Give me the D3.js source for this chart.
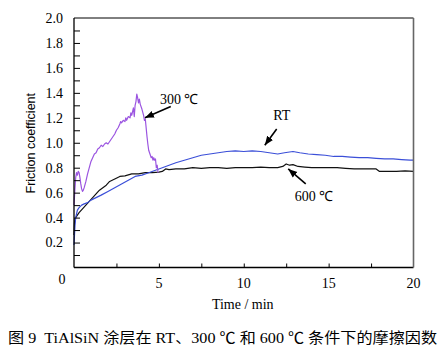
<!DOCTYPE html>
<html>
<head>
<meta charset="utf-8">
<script src="https://cdn.jsdelivr.net/npm/d3@7"></script>
<style>
  body { margin: 0; background: #fff; }
  svg { display: block; }
</style>
</head>
<body>
<script>
// friction coefficient vs time
var timeRT = [0, 0.03, 0.06, 0.1, 0.15, 0.2, 0.3, 0.45, 0.6, 0.8, 1.0, 1.3, 1.6, 2.0, 2.4, 2.8, 3.2, 3.6, 4.0, 4.4, 4.8, 5.2, 5.6, 6.0, 6.5, 7.0, 7.5, 8.0, 8.5, 9.0, 9.5, 10.0, 10.5, 11.0, 11.5, 12.0, 12.4, 12.9, 13.3, 13.8, 14.3, 14.8, 15.3, 15.8, 16.3, 16.8, 17.3, 17.8, 18.3, 18.8, 19.3, 19.8, 20]
var muRT = [0.18, 0.26, 0.34, 0.40, 0.43, 0.46, 0.48, 0.50, 0.51, 0.52, 0.54, 0.56, 0.58, 0.61, 0.64, 0.67, 0.70, 0.73, 0.74, 0.76, 0.78, 0.80, 0.82, 0.84, 0.86, 0.88, 0.90, 0.91, 0.92, 0.93, 0.935, 0.93, 0.935, 0.93, 0.92, 0.91, 0.92, 0.93, 0.92, 0.91, 0.905, 0.90, 0.89, 0.89, 0.885, 0.88, 0.88, 0.875, 0.87, 0.87, 0.865, 0.86, 0.86]

var time300 = [0, 0.05, 0.1, 0.15, 0.2, 0.25, 0.3, 0.35, 0.4, 0.45, 0.5, 0.55, 0.6, 0.7, 0.8, 0.9, 1.0, 1.1, 1.2, 1.3, 1.4, 1.5, 1.6, 1.7, 1.8, 1.9, 2.0, 2.1, 2.2, 2.3, 2.4, 2.5, 2.6, 2.7, 2.75, 2.8, 2.9, 3.0, 3.05, 3.1, 3.2, 3.3, 3.35, 3.4, 3.5, 3.55, 3.6, 3.65, 3.7, 3.75, 3.8, 3.85, 3.9, 4.0, 4.1, 4.15, 4.2, 4.25, 4.3, 4.35, 4.4, 4.45, 4.5, 4.55, 4.6, 4.65, 4.7, 4.75, 4.8, 4.85, 4.9, 4.95]
var mu300 = [0.50, 0.62, 0.72, 0.76, 0.74, 0.77, 0.76, 0.72, 0.67, 0.63, 0.61, 0.62, 0.64, 0.69, 0.75, 0.80, 0.85, 0.88, 0.91, 0.92, 0.95, 0.96, 0.98, 0.97, 0.99, 1.00, 0.99, 1.01, 1.03, 1.05, 1.07, 1.10, 1.12, 1.15, 1.17, 1.16, 1.18, 1.17, 1.20, 1.18, 1.21, 1.20, 1.24, 1.22, 1.28, 1.21, 1.30, 1.33, 1.39, 1.36, 1.32, 1.35, 1.31, 1.27, 1.22, 1.18, 1.19, 1.12, 1.05, 0.99, 0.94, 0.92, 0.90, 0.88, 0.89, 0.86, 0.88, 0.86, 0.87, 0.80, 0.82, 0.76]

var time600 = [0, 0.03, 0.06, 0.1, 0.2, 0.3, 0.5, 0.7, 0.9, 1.1, 1.3, 1.5, 1.7, 1.9, 2.1, 2.4, 2.7, 3.0, 3.4, 3.8, 4.2, 4.6, 5.0, 5.2, 5.4, 5.6, 6.0, 6.5, 7.0, 7.5, 8.0, 8.5, 9.0, 9.5, 10.0, 10.5, 11.0, 11.5, 12.0, 12.3, 12.5, 12.7, 12.9, 13.2, 13.6, 14.0, 14.5, 15.0, 15.5, 16.0, 16.5, 17.0, 17.5, 17.8, 18.0, 18.5, 19.0, 19.5, 20]
var mu600 = [0.26, 0.36, 0.39, 0.40, 0.42, 0.44, 0.47, 0.50, 0.53, 0.56, 0.59, 0.62, 0.64, 0.66, 0.69, 0.71, 0.73, 0.735, 0.75, 0.75, 0.76, 0.76, 0.765, 0.77, 0.79, 0.785, 0.79, 0.79, 0.80, 0.795, 0.80, 0.80, 0.795, 0.80, 0.80, 0.80, 0.805, 0.80, 0.80, 0.81, 0.83, 0.82, 0.825, 0.81, 0.805, 0.80, 0.80, 0.80, 0.80, 0.795, 0.79, 0.79, 0.79, 0.79, 0.77, 0.77, 0.77, 0.775, 0.77]

var yTickLabels = ["0.2", "0.4", "0.6", "0.8", "1.0", "1.2", "1.4", "1.6", "1.8", "2.0"]
var xTickLabels = ["5", "10", "15", "20"]

// callouts: label anchor and arrow, in data units
var callouts = [
  { text: "300 \u2103", x: 5.06, y: 1.35, anchor: "start", from: [5.7, 1.29], to: [4.18, 1.20] },
  { text: "RT", x: 12.24, y: 1.22, anchor: "middle", from: [11.94, 1.11], to: [11.24, 0.98] },
  { text: "600 \u2103", x: 13.0, y: 0.57, anchor: "start", from: [13.65, 0.67], to: [12.62, 0.79] }
]

var caption = "图 9\u00a0\u00a0TiAlSiN 涂层在 RT、300 \u2103 和 600 \u2103 条件下的摩擦因数"

var W = 443, H = 354
var margin = { top: 18, right: 29.5, bottom: 86.5, left: 74 }
var width = W - margin.left - margin.right
var height = H - margin.top - margin.bottom

var svg = d3.select("body").append("svg")
    .attr("width", W)
    .attr("height", H)

var g = svg.append("g")
    .attr("transform", "translate(" + margin.left + "," + margin.top + ")")

var x = d3.scaleLinear().domain([0, 20]).range([0, width])
var y = d3.scaleLinear().domain([0, 2]).range([height, 0])

var serif = "'Liberation Serif', 'Times New Roman', serif"

var line = d3.line()
    .x(function(d) { return x(d[0]) })
    .y(function(d) { return y(d[1]) })

var series = [
  { t: time600, v: mu600, color: "#111" },
  { t: timeRT, v: muRT, color: "#3b4fd8" },
  { t: time300, v: mu300, color: "#9b55e0" }
]

series.forEach(function(s) {
  g.append("path")
      .datum(s.t.map(function(t, i) { return [t, s.v[i]] }))
      .attr("fill", "none")
      .attr("stroke", s.color)
      .attr("stroke-width", 1.2)
      .attr("stroke-linejoin", "round")
      .attr("d", line)
})

// inner ticks on left axis every 0.1
var yAxis = d3.axisLeft(y)
    .tickValues(d3.range(1, 20).map(function(i) { return i / 10 }))
    .tickSize(-6)
    .tickFormat("")
g.append("g").call(yAxis)
    .call(function(a) { a.select(".domain").remove() })
    .selectAll("line").attr("stroke", "#000")

g.selectAll(".ylab")
    .data(yTickLabels)
  .enter().append("text")
    .attr("x", -11)
    .attr("y", function(d) { return y(+d) })
    .attr("dy", "0.35em")
    .attr("text-anchor", "end")
    .attr("font-family", serif)
    .attr("font-size", 14)
    .text(function(d) { return d })

// bottom ticks every 2.5, pointing up
var xAxis = d3.axisBottom(x)
    .tickValues(d3.range(1, 8).map(function(i) { return i * 2.5 }))
    .tickSize(-4)
    .tickFormat("")
g.append("g")
    .attr("transform", "translate(0," + height + ")")
    .call(xAxis)
    .call(function(a) { a.select(".domain").remove() })
    .selectAll("line").attr("stroke", "#000")

g.selectAll(".xlab")
    .data(xTickLabels)
  .enter().append("text")
    .attr("x", function(d) { return x(+d) })
    .attr("y", height + 16)
    .attr("dy", "0.35em")
    .attr("text-anchor", "middle")
    .attr("font-family", serif)
    .attr("font-size", 14)
    .text(function(d) { return d })

// shared origin label
g.append("text")
    .attr("x", -12)
    .attr("y", height + 12)
    .attr("dy", "0.35em")
    .attr("text-anchor", "middle")
    .attr("font-family", serif)
    .attr("font-size", 14)
    .text("0")

// frame
g.append("line").attr("x1", 0).attr("x2", width).attr("y1", 0).attr("y2", 0).attr("stroke", "#000")
g.append("line").attr("x1", 0).attr("x2", 0).attr("y1", 0).attr("y2", height).attr("stroke", "#000").attr("stroke-width", 1.3)
g.append("line").attr("x1", 0).attr("x2", width).attr("y1", height).attr("y2", height).attr("stroke", "#000").attr("stroke-width", 1.3)
g.append("line").attr("x1", width).attr("x2", width).attr("y1", 0).attr("y2", height).attr("stroke", "#666").attr("stroke-width", 1.6)

// axis titles
g.append("text")
    .attr("transform", "translate(" + (31 - margin.left) + "," + (y(1.0) + 0.5) + ") rotate(-90)")
    .attr("dy", "0.35em")
    .attr("text-anchor", "middle")
    .attr("font-family", "'Liberation Sans', Arial, sans-serif")
    .attr("font-size", 12.5)
    .text("Friction coefficient")

g.append("text")
    .attr("x", x(10) - 1)
    .attr("y", height + 37)
    .attr("dy", "0.35em")
    .attr("text-anchor", "middle")
    .attr("font-family", serif)
    .attr("font-size", 14)
    .text("Time / min")

// callouts with arrows
svg.append("defs").append("marker")
    .attr("id", "arrow")
    .attr("viewBox", "0 0 10 10")
    .attr("refX", 10).attr("refY", 5)
    .attr("markerWidth", 9).attr("markerHeight", 9)
    .attr("markerUnits", "userSpaceOnUse")
    .attr("orient", "auto")
  .append("path")
    .attr("d", "M0,1 L10,5 L0,9 z")
    .attr("fill", "#000")

callouts.forEach(function(c) {
  g.append("line")
      .attr("x1", x(c.from[0])).attr("y1", y(c.from[1]))
      .attr("x2", x(c.to[0])).attr("y2", y(c.to[1]))
      .attr("stroke", "#000")
      .attr("stroke-width", 1.6)
      .attr("marker-end", "url(#arrow)")
  g.append("text")
      .attr("x", x(c.x))
      .attr("y", y(c.y))
      .attr("dy", "0.35em")
      .attr("text-anchor", c.anchor)
      .attr("font-family", serif)
      .attr("font-size", 14)
      .text(c.text)
})

// figure caption
svg.append("text")
    .attr("x", 8)
    .attr("y", 338)
    .attr("dy", "0.35em")
    .attr("font-family", "'Liberation Serif', 'Noto Sans CJK SC', serif")
    .attr("font-size", 14.5)
    .attr("textLength", 429)
    .attr("lengthAdjust", "spacingAndGlyphs")
    .text(caption)
</script>
</body>
</html>
